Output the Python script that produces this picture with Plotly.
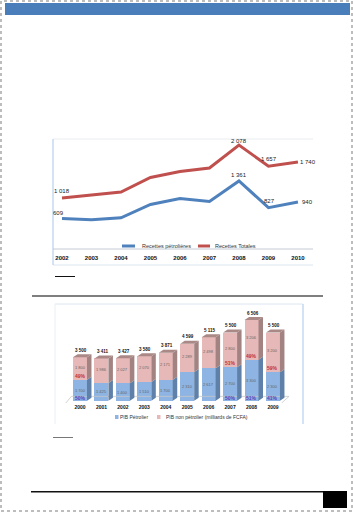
import plotly.graph_objects as go

# ---------- data ----------
line_years = ["2002", "2003", "2004", "2005", "2006", "2007", "2008", "2009", "2010"]
petrol_rev = [609, 585, 625, 890, 1010, 950, 1361, 827, 940]
total_rev = [1018, 1075, 1140, 1430, 1550, 1620, 2078, 1657, 1740]
petrol_lbl = {0: "609", 6: "1 361", 7: "827", 8: "940"}
total_lbl = {0: "1 018", 6: "2 078", 7: "1 657", 8: "1 740"}

bar_years = ["2000", "2001", "2002", "2003", "2004", "2005", "2006", "2007", "2008", "2009"]
pib_petrol = [1700, 1425, 1400, 1510, 1700, 2310, 2617, 2700, 3300, 2300]
pib_non = [1800, 1986, 2027, 2070, 2171, 2289, 2498, 2800, 3206, 3200]
pct_petrol = {0: "50%", 7: "50%", 8: "51%", 9: "41%"}
pct_non = {0: "49%", 7: "51%", 8: "49%", 9: "59%"}

W, H = 353, 512
def fx(px): return px / W
def fy(px): return 1 - px / H

fig = go.Figure()

# ---------- line chart ----------
xi = list(range(len(line_years)))
fig.add_trace(go.Scatter(x=xi, y=petrol_rev, mode="lines", name="Recettes pétrolières",
                         line=dict(color="#4F81BD", width=3), xaxis="x", yaxis="y"))
fig.add_trace(go.Scatter(x=xi, y=total_rev, mode="lines", name="Recettes Totales",
                         line=dict(color="#C0504D", width=3), xaxis="x", yaxis="y"))

anns = []
lab_font = dict(family="Liberation Sans", size=6, color="#222222")
shift_p = {0: (-4, 6), 6: (0, 6), 7: (1, 7), 8: (10, 0)}
shift_t = {0: (0, 7), 6: (0, 4), 7: (1, 7), 8: (10, 0)}
for i, t in petrol_lbl.items():
    anns.append(dict(x=i, y=petrol_rev[i], text=t, xref="x", yref="y", showarrow=False,
                     xshift=shift_p[i][0], yshift=shift_p[i][1], font=lab_font))
for i, t in total_lbl.items():
    anns.append(dict(x=i, y=total_rev[i], text=t, xref="x", yref="y", showarrow=False,
                     xshift=shift_t[i][0], yshift=shift_t[i][1], font=lab_font))

# ---------- 3D stacked bars ----------
bi = list(range(len(bar_years)))
totals = [a + b for a, b in zip(pib_petrol, pib_non)]
BW, DX, DY = 0.65, 0.21, 240
C_BLUE, C_BLUE_S = "#8DB4E2", "#5F80A8"
C_PINK, C_PINK_S = "#E6B8B7", "#A38382"
C_TOP = "#A98886"

# floor
fig.add_trace(go.Scatter(x=[-0.7, -0.4, 9.75, 9.4], y=[-260, 350, 350, -190], mode="lines", cliponaxis=False,
                         line=dict(color="#C8C8C8", width=0.8),
                         hoverinfo="skip", xaxis="x2", yaxis="y2"))

fig.add_trace(go.Bar(x=bi, y=pib_petrol, width=BW, name="PIB Pétrolier", marker=dict(color=C_BLUE, line_width=0),
                     xaxis="x2", yaxis="y2"))
fig.add_trace(go.Bar(x=bi, y=pib_non, width=BW, name="PIB non pétrolier (milliards de FCFA)",
                     marker=dict(color=C_PINK, line_width=0), xaxis="x2", yaxis="y2"))

def face(xs, ys, col):
    fig.add_trace(go.Scatter(x=xs, y=ys, mode="lines", fill="toself", fillcolor=col, line=dict(width=0),
                             hoverinfo="skip", xaxis="x2", yaxis="y2"))

for i in bi:
    r = i + BW / 2
    l = i - BW / 2
    p, t = pib_petrol[i], totals[i]
    face([r, r + DX, r + DX, r], [0, DY, p + DY, p], C_BLUE_S)
    face([r, r + DX, r + DX, r], [p, p + DY, t + DY, t], C_PINK_S)
    face([l, l + DX, r + DX, r], [t, t + DY, t + DY, t], C_TOP)

small = dict(family="Liberation Sans", size=4, color="#666666")
for i in bi:
    p, n, t = pib_petrol[i], pib_non[i], totals[i]
    fmt = lambda v: f"{v:,}".replace(",", " ")
    anns.append(dict(x=i, y=p / 2, text=fmt(p), xref="x2", yref="y2", showarrow=False, font=small))
    anns.append(dict(x=i, y=p + n * 0.55, text=fmt(n), xref="x2", yref="y2", showarrow=False, font=small))
    anns.append(dict(x=i + 0.05, y=t + DY, text=f"<b>{fmt(t)}</b>", xref="x2", yref="y2", showarrow=False, yshift=4,
                     font=dict(family="Liberation Sans", size=4.5, color="#111111")))
for i, s in pct_petrol.items():
    anns.append(dict(x=i, y=0, text=f"<b>{s}</b>", xref="x2", yref="y2", showarrow=False, yshift=3,
                     font=dict(family="Liberation Sans", size=5, color="#5B3FB5")))
for i, s in pct_non.items():
    anns.append(dict(x=i, y=pib_petrol[i], text=f"<b>{s}</b>", xref="x2", yref="y2", showarrow=False, yshift=4,
                     font=dict(family="Liberation Sans", size=5, color="#C0303A")))

# ---------- page furniture ----------
shapes = []
def rect(x0, y0, x1, y1, fill="rgba(0,0,0,0)", line=None, lw=0, dash=None):
    shapes.append(dict(type="rect", xref="paper", yref="paper", x0=fx(x0), x1=fx(x1), y0=fy(y1), y1=fy(y0),
                       fillcolor=fill, line=dict(color=line or "rgba(0,0,0,0)", width=lw, dash=dash),
                       layer="below"))
def hline(x0, x1, y, col, lw):
    shapes.append(dict(type="line", xref="paper", yref="paper", x0=fx(x0), x1=fx(x1), y0=fy(y), y1=fy(y),
                       line=dict(color=col, width=lw), layer="below"))
def vline(x, y0, y1, col, lw):
    shapes.append(dict(type="line", xref="paper", yref="paper", x0=fx(x), x1=fx(x), y0=fy(y0), y1=fy(y1),
                       line=dict(color=col, width=lw), layer="below"))

rect(1, 1, 352, 511, line="#A8A8A8", lw=1.5, dash="dot")
rect(5, 3, 350, 15, fill="#4A7EBB")
# line chart frame
hline(53, 313, 139, "#E8ECF0", 1)
hline(53, 313, 265, "#DCE6F1", 1)
vline(53, 139, 265, "#C5D9F1", 1.5)
hline(53, 313, 249, "#C4CCD4", 1)
hline(55, 75, 276.5, "#111111", 1)
hline(32, 323, 296, "#555555", 1.5)
# bar chart frame
hline(55, 303, 304, "#DCE6F1", 1)
vline(55, 304, 424, "#E8F0F6", 1)
vline(303, 304, 424, "#C5D9F1", 1.5)
hline(53, 73, 437.5, "#777777", 1)
# footer
hline(31, 323, 491.7, "#111111", 1.5)
rect(323, 491, 347, 508, fill="#000000")

# compact legends matching the reference
def legend_text(x, y, text, size):
    anns.append(dict(x=fx(x), y=fy(y), xref="paper", yref="paper", text=text, showarrow=False, xanchor="left",
                     yanchor="middle", borderpad=0, font=dict(family="Liberation Sans", size=size, color="#333333")))
hline(122, 135, 246, "#4F81BD", 3)
legend_text(141, 246, "Recettes pétrolières", 5.5)
hline(198, 210, 246, "#C0504D", 3)
legend_text(214, 246, "Recettes Totales", 5.5)
rect(115, 415, 118.5, 419, fill=C_BLUE)
legend_text(119, 417, "PIB Pétrolier", 5)
rect(157, 415, 160.5, 419, fill=C_PINK)
legend_text(165, 417, "PIB non pétrolier (milliards de FCFA)", 5)

tick_font = dict(family="Liberation Sans", size=6, color="#111111")
fig.update_layout(
    width=W, height=H, margin=dict(l=0, r=0, t=0, b=0),
    paper_bgcolor="white", plot_bgcolor="rgba(0,0,0,0)", barmode="stack", showlegend=False,
    shapes=shapes, annotations=anns, bargap=0.35,
    xaxis=dict(domain=[fx(53), fx(313)], range=[-0.305, 8.51], tickvals=xi, ticktext=[f"<b>{y}</b>" for y in line_years],
               tickfont=tick_font, showgrid=False, zeroline=False, showline=False, ticks="outside", ticklen=3,
               tickcolor="rgba(0,0,0,0)", fixedrange=True),
    yaxis=dict(domain=[fy(249), fy(139)], range=[0, 2200], visible=False, fixedrange=True),
    xaxis2=dict(domain=[fx(55), fx(303)], range=[-1.166, 10.4], tickvals=bi, ticktext=[f"<b>{y}</b>" for y in bar_years],
                tickfont=dict(family="Liberation Sans", size=5, color="#111111"), showgrid=False, zeroline=False,
                showline=False, ticks="", fixedrange=True, anchor="y2"),
    yaxis2=dict(domain=[fy(403), fy(305)], range=[-185, 7718], visible=False, fixedrange=True, anchor="x2"),
)
fig.write_html("out.html", config=dict(displayModeBar=False),
               post_script="document.body.style.margin='0';document.body.style.overflow='hidden';")
